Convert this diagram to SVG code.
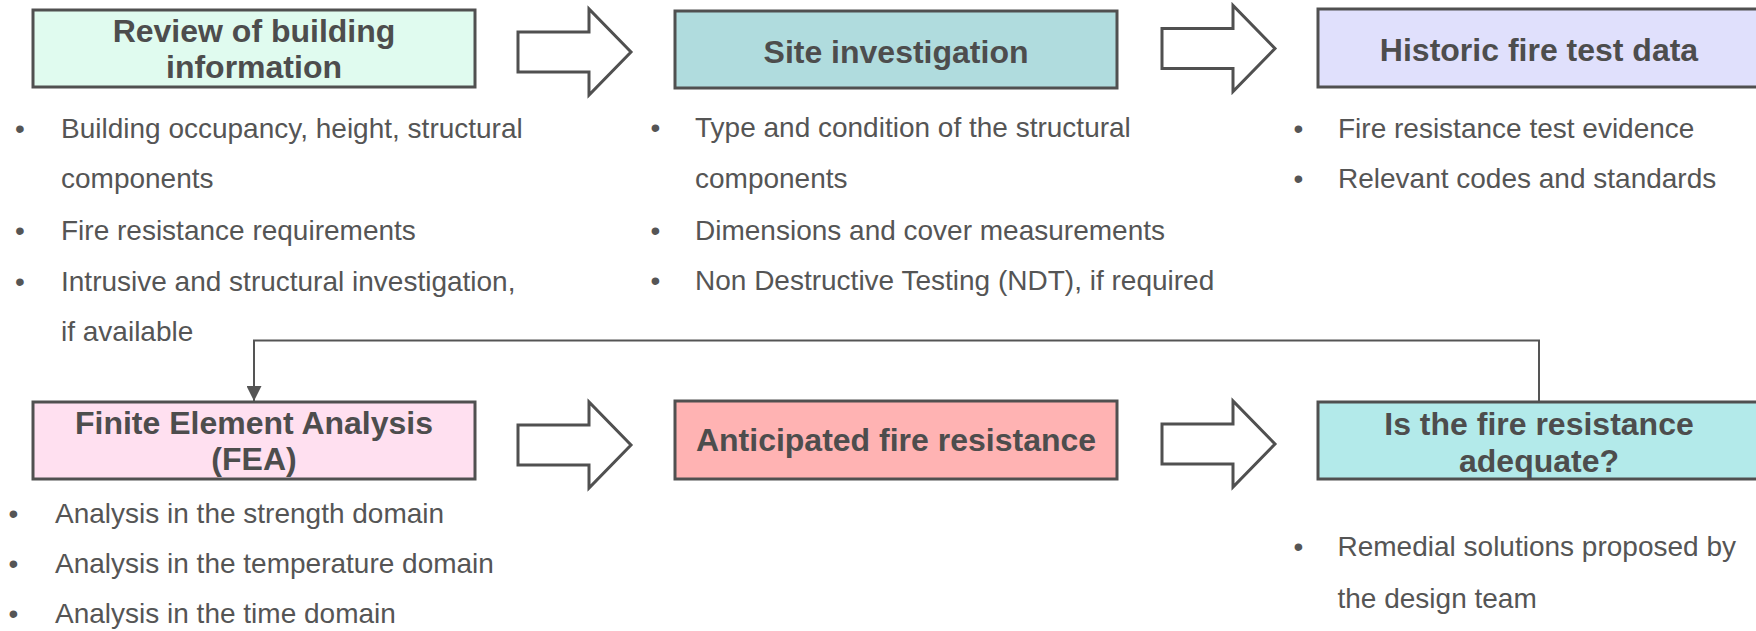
<svg xmlns="http://www.w3.org/2000/svg" width="1756" height="631" viewBox="0 0 1756 631">
  <defs>
    <style>
      .box { stroke: #505050; stroke-width: 3; }
      .title { font-family: "Liberation Sans", Arial, sans-serif; font-weight: bold; font-size: 32px; fill: #4d4d4d; text-anchor: middle; }
      .body { font-family: "Liberation Sans", Arial, sans-serif; font-size: 28px; fill: #555555; }
      .blockarrow { fill: #ffffff; stroke: #505050; stroke-width: 3; stroke-linejoin: miter; }
      .link { fill: none; stroke: #555555; stroke-width: 2; }
    </style>
    <path id="step-arrow" d="M0,-20 H71 V-43 L113,0 L71,43 V20 H0 Z"/>
    <marker id="tip" viewBox="0 0 10 10" refX="10" refY="5" markerWidth="7.5" markerHeight="7.5" markerUnits="strokeWidth" orient="auto">
      <path d="M0,0 L10,5 L0,10 Z" fill="#555555"/>
    </marker>
  </defs>

  <rect width="1756" height="631" fill="#ffffff"/>

  <!-- block arrows between steps -->
  <g id="step-arrows">
    <use href="#step-arrow" class="blockarrow" transform="translate(518,52)"/>
    <use href="#step-arrow" class="blockarrow" transform="translate(1162,48.5)"/>
    <use href="#step-arrow" class="blockarrow" transform="translate(518,445)"/>
    <use href="#step-arrow" class="blockarrow" transform="translate(1162,444)"/>
  </g>

  <!-- feedback loop from the adequacy check back to the analysis -->
  <g id="connectors">
    <polyline class="link" points="1539,402 1539,340.5 254,340.5 254,401" marker-end="url(#tip)"/>
  </g>

  <g id="review">
    <rect class="box" x="33" y="10" width="442" height="77" fill="#e0fbef"/>
    <text class="title" x="254" y="41.5">Review of building</text>
    <text class="title" x="254" y="78">information</text>
    <text class="body" x="15" y="138">•</text>
    <text class="body" x="61" y="138">Building occupancy, height, structural</text>
    <text class="body" x="61" y="188">components</text>
    <text class="body" x="15" y="240">•</text>
    <text class="body" x="61" y="240">Fire resistance requirements</text>
    <text class="body" x="15" y="291">•</text>
    <text class="body" x="61" y="291">Intrusive and structural investigation,</text>
    <text class="body" x="61" y="341">if available</text>
  </g>

  <g id="site">
    <rect class="box" x="675" y="11" width="442" height="77" fill="#b0dcde"/>
    <text class="title" x="896" y="63">Site investigation</text>
    <text class="body" x="650.5" y="137">•</text>
    <text class="body" x="695" y="137">Type and condition of the structural</text>
    <text class="body" x="695" y="188">components</text>
    <text class="body" x="650.5" y="239.5">•</text>
    <text class="body" x="695" y="239.5">Dimensions and cover measurements</text>
    <text class="body" x="650.5" y="289.5">•</text>
    <text class="body" x="695" y="289.5">Non Destructive Testing (NDT), if required</text>
  </g>

  <g id="historic">
    <rect class="box" x="1318" y="9" width="442" height="78" fill="#e0e0fc"/>
    <text class="title" x="1539" y="61">Historic fire test data</text>
    <text class="body" x="1293.5" y="138">•</text>
    <text class="body" x="1338" y="138">Fire resistance test evidence</text>
    <text class="body" x="1293.5" y="188">•</text>
    <text class="body" x="1338" y="188">Relevant codes and standards</text>
  </g>

  <g id="fea">
    <rect class="box" x="33" y="402" width="442" height="77" fill="#ffe0f0"/>
    <text class="title" x="254" y="434">Finite Element Analysis</text>
    <text class="title" x="254" y="470">(FEA)</text>
    <text class="body" x="8.5" y="523">•</text>
    <text class="body" x="55" y="523">Analysis in the strength domain</text>
    <text class="body" x="8.5" y="573">•</text>
    <text class="body" x="55" y="573">Analysis in the temperature domain</text>
    <text class="body" x="8.5" y="623">•</text>
    <text class="body" x="55" y="623">Analysis in the time domain</text>
  </g>

  <g id="anticipated">
    <rect class="box" x="675" y="401" width="442" height="78" fill="#ffb3b3"/>
    <text class="title" x="896" y="451">Anticipated fire resistance</text>
  </g>

  <g id="adequacy">
    <rect class="box" x="1318" y="402" width="442" height="77" fill="#b3eaea"/>
    <text class="title" x="1539" y="435">Is the fire resistance</text>
    <text class="title" x="1539" y="471.5">adequate?</text>
    <text class="body" x="1293.5" y="555.5">•</text>
    <text class="body" x="1337.5" y="555.5">Remedial solutions proposed by</text>
    <text class="body" x="1337.5" y="607.5">the design team</text>
  </g>
</svg>
